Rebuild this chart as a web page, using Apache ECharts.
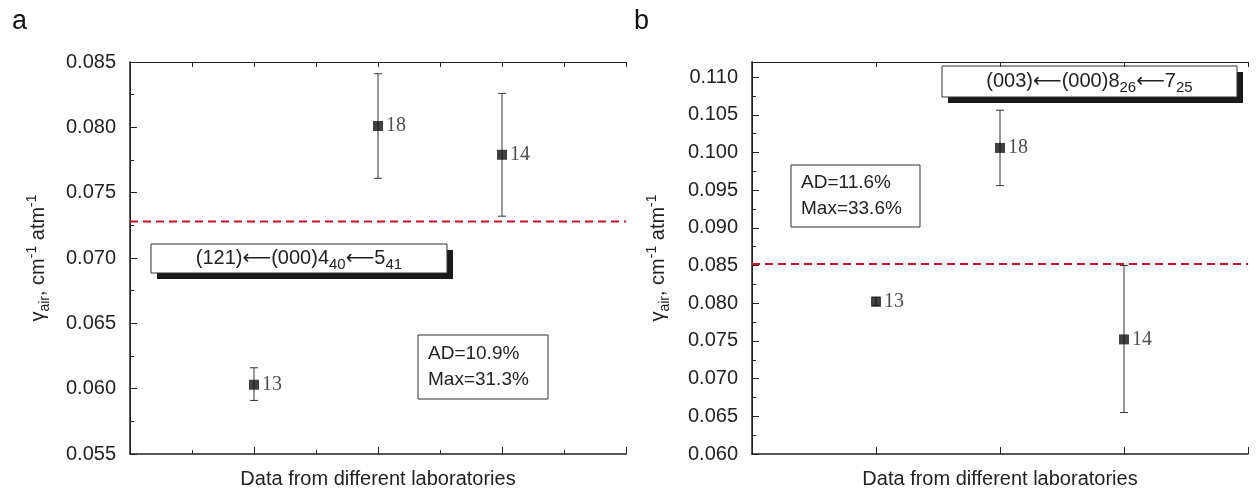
<!DOCTYPE html>
<html>
<head>
<meta charset="utf-8">
<script src="https://cdn.jsdelivr.net/npm/echarts@6/dist/echarts.min.js"></script>
<style>
  html, body { margin: 0; padding: 0; background: #fff; }
  #chart { width: 1257px; height: 496px; }
</style>
</head>
<body>
<div id="chart"></div>
<script>
// laboratories (reference numbers) and their positions on the x axis
const labs = ['13', '18', '14'];
const labPos = [1, 2, 3];

// panel a: (121)<-(000) 4_40 <- 5_41
const aValue = [0.0603, 0.0801, 0.0779];
const aLow = [0.0591, 0.0761, 0.0732];
const aHigh = [0.0616, 0.0841, 0.0826];
const aMean = 0.0728;
const aStats = ['AD=10.9%', 'Max=31.3%'];

// panel b: (003)<-(000) 8_26 <- 7_25
const bValue = [0.0802, 0.1006, 0.0752];
const bLow = [0.0797, 0.0956, 0.0655];
const bHigh = [0.0808, 0.1056, 0.0850];
const bMean = 0.0852;
const bStats = ['AD=11.6%', 'Max=33.6%'];

const sans = 'Liberation Sans, Arial, sans-serif';
const serif = 'Liberation Serif, Times New Roman, serif';
const ink = '#222';

const chart = echarts.init(document.getElementById('chart'), null, { renderer: 'canvas' });

const yName = '{g|γ}{sub|air}{g|, cm}{sup|-1}{g| atm}{sup|-1}';
const yNameStyle = {
  color: ink,
  fontFamily: sans,
  rich: {
    g: { fontSize: 20, lineHeight: 27, fontFamily: sans, color: ink },
    sub: { fontSize: 14, lineHeight: 14, verticalAlign: 'bottom', fontFamily: sans, color: ink },
    sup: { fontSize: 14, lineHeight: 14, verticalAlign: 'top', fontFamily: sans, color: ink }
  }
};

function yAxis(idx, min, max, gap) {
  return {
    type: 'value', gridIndex: idx, min: min, max: max, interval: 0.005,
    name: yName, nameLocation: 'middle', nameRotate: 90, nameGap: gap,
    nameTextStyle: yNameStyle,
    axisLine: { show: true, lineStyle: { color: ink, width: 1.5 } },
    axisTick: { show: true, inside: true, length: 7, lineStyle: { color: ink } },
    minorTick: { show: true, splitNumber: 2, length: 4, lineStyle: { color: ink } },
    splitLine: { show: false },
    axisLabel: {
      color: ink, fontFamily: sans, fontSize: 20, margin: 14,
      showMaxLabel: idx === 0,
      formatter: v => v.toFixed(3)
    }
  };
}

function xBottom(idx, minor) {
  return {
    type: 'value', gridIndex: idx, min: 0, max: 4, interval: 1, position: 'bottom',
    name: 'Data from different laboratories', nameLocation: 'middle', nameGap: 15,
    nameTextStyle: { color: ink, fontFamily: sans, fontSize: 20 },
    axisLine: { show: true, lineStyle: { color: ink, width: 1.5 } },
    axisTick: { show: true, inside: true, length: 7, lineStyle: { color: ink } },
    minorTick: { show: minor, splitNumber: 2, length: 4, lineStyle: { color: ink } },
    splitLine: { show: false },
    axisLabel: { show: false }
  };
}

function xTop(idx, step) {
  return {
    type: 'value', gridIndex: idx, min: 0, max: 4, interval: step, position: 'top',
    axisLine: { show: true, lineStyle: { color: ink, width: 1 } },
    axisTick: { show: true, inside: true, length: 5, lineStyle: { color: ink } },
    splitLine: { show: false },
    axisLabel: { show: false }
  };
}

function yRight(idx, min, max) {
  return {
    type: 'value', gridIndex: idx, min: min, max: max, position: 'right',
    axisLine: { show: true, lineStyle: { color: ink, width: 1 } },
    axisTick: { show: false }, splitLine: { show: false }, axisLabel: { show: false }
  };
}

function errorSeries(xi, yi, low, high) {
  return {
    type: 'custom', xAxisIndex: xi, yAxisIndex: yi, silent: true,
    data: labPos.map((x, i) => [x, low[i], high[i]]),
    renderItem: function (params, api) {
      const lo = api.coord([api.value(0), api.value(1)]);
      const hi = api.coord([api.value(0), api.value(2)]);
      const w = 4;
      const st = { stroke: '#333', lineWidth: 1 };
      return {
        type: 'group',
        children: [
          { type: 'line', shape: { x1: lo[0], y1: lo[1], x2: hi[0], y2: hi[1] }, style: st },
          { type: 'line', shape: { x1: hi[0] - w, y1: hi[1], x2: hi[0] + w, y2: hi[1] }, style: st },
          { type: 'line', shape: { x1: lo[0] - w, y1: lo[1], x2: lo[0] + w, y2: lo[1] }, style: st }
        ]
      };
    }
  };
}

function pointSeries(xi, yi, vals) {
  return {
    type: 'scatter', xAxisIndex: xi, yAxisIndex: yi, silent: true,
    symbol: 'rect', symbolSize: 10,
    itemStyle: { color: '#111' },
    data: labPos.map((x, i) => [x, vals[i], labs[i]]),
    label: {
      show: true, position: 'right', distance: 3,
      formatter: p => p.data[2],
      fontFamily: serif, fontSize: 20, color: ink
    },
    z: 5
  };
}

// dashed line at the mean value, spanning the full x range
function meanSeries(xi, yi, mean) {
  return {
    type: 'line', xAxisIndex: xi, yAxisIndex: yi, silent: true,
    data: [[0, mean], [4, mean]],
    symbol: 'none',
    lineStyle: { color: '#c8102e', type: [8, 5], width: 2 },
    z: 3
  };
}

function labelBox(x, y, w, h, rich, text) {
  return {
    type: 'group',
    children: [
      { type: 'rect', shape: { x: x + 6, y: y + 6, width: w, height: h }, style: { fill: '#1a1a1a' } },
      { type: 'rect', shape: { x: x, y: y, width: w, height: h }, style: { fill: '#fff', stroke: '#333', lineWidth: 1 } },
      {
        type: 'text', x: x + w / 2, y: y + h / 2,
        style: { text: text, rich: rich, align: 'center', verticalAlign: 'middle', fill: ink, fontFamily: sans, fontSize: 20 }
      }
    ]
  };
}

function statBox(x, y, w, h, lines) {
  return {
    type: 'group',
    children: [
      { type: 'rect', shape: { x: x, y: y, width: w, height: h }, style: { fill: '#fff', stroke: '#333', lineWidth: 1 } },
      {
        type: 'text', x: x + 10, y: y + h / 2,
        style: { text: lines.join('\n'), fill: ink, fontFamily: sans, fontSize: 19, lineHeight: 26, align: 'left', verticalAlign: 'middle' }
      }
    ]
  };
}

const boxRich = {
  m: { fontSize: 20, lineHeight: 27, fontFamily: sans, color: ink },
  a: { fontSize: 20, lineHeight: 27, fontFamily: 'DejaVu Sans', color: ink },
  s: { fontSize: 15, lineHeight: 15, verticalAlign: 'bottom', fontFamily: sans, color: ink }
};

chart.setOption({
  animation: false,
  grid: [
    { left: 130, top: 62, width: 496, height: 392 },
    { left: 752, top: 62, width: 496, height: 392 }
  ],
  xAxis: [xBottom(0, true), xTop(0, 0.5), xBottom(1, false), xTop(1, 1)],
  yAxis: [yAxis(0, 0.055, 0.085, 78), yRight(0, 0.055, 0.085), yAxis(1, 0.060, 0.112, 80), yRight(1, 0.060, 0.112)],
  series: [
    meanSeries(0, 0, aMean),
    errorSeries(0, 0, aLow, aHigh),
    pointSeries(0, 0, aValue),
    meanSeries(2, 2, bMean),
    errorSeries(2, 2, bLow, bHigh),
    pointSeries(2, 2, bValue)
  ],
  graphic: [
    { type: 'text', x: 12, y: 8, style: { text: 'a', fontFamily: sans, fontSize: 27, fill: '#111' } },
    { type: 'text', x: 634, y: 8, style: { text: 'b', fontFamily: sans, fontSize: 27, fill: '#111' } },
    labelBox(151, 244, 296, 29, boxRich, '{m|(121)}{a|⟵}{m|(000)4}{s|40}{a|⟵}{m|5}{s|41}'),
    labelBox(942, 66, 295, 31, boxRich, '{m|(003)}{a|⟵}{m|(000)8}{s|26}{a|⟵}{m|7}{s|25}'),
    statBox(418, 335, 130, 64, aStats),
    statBox(791, 165, 129, 62, bStats)
  ]
});
</script>
</body>
</html>
